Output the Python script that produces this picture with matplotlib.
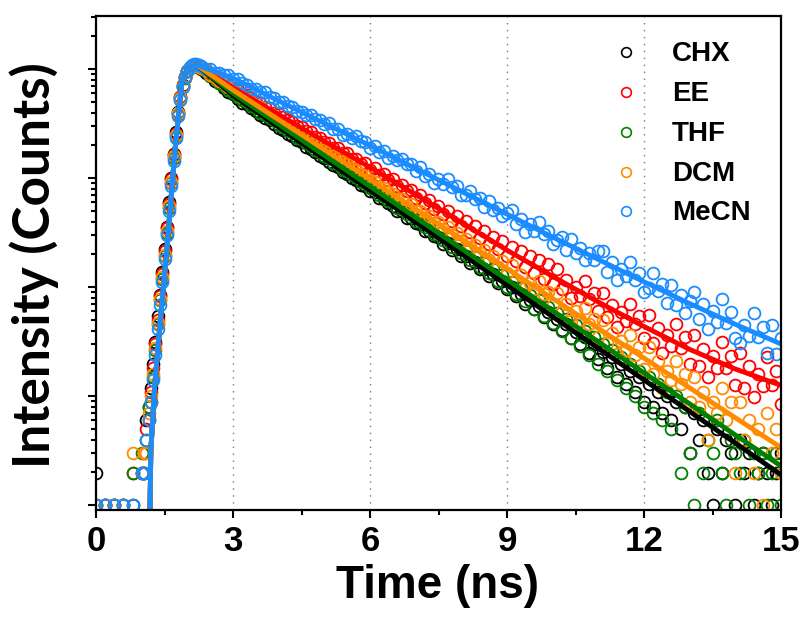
import numpy as np
import matplotlib.pyplot as plt
from matplotlib.ticker import LogLocator, NullFormatter, MultipleLocator

# time axis of the decay traces (ns)
t_base = [0.0, 0.2, 0.4, 0.6, 0.8, 1.0]
t_rise = np.linspace(1.05, 2.25, 25)
t_decay = np.linspace(2.3, 15.0, 128)
t_data = np.concatenate([t_base, t_rise, t_decay])

solvents = ['CHX', 'EE', 'THF', 'DCM', 'MeCN']
colors = ['#000000', '#ff0000', '#008000', '#ff8c00', '#1a8cff']

chx_log = [0.30, 0, 0, 0, 0, 0.30,
           0.30, 0.78, 0.90, 1.08, 1.30, 1.50, 1.74, 1.93, 2.14, 2.35, 2.55, 2.78, 3.00,
           3.22, 3.42, 3.61, 3.75, 3.86, 3.93, 3.98, 4.01, 4.03, 4.04, 4.03, 4.02,
           4.00, 3.97, 3.94, 3.89, 3.87, 3.83, 3.79, 3.77, 3.73, 3.69,
           3.68, 3.64, 3.62, 3.58, 3.55, 3.53, 3.50, 3.46, 3.44, 3.41,
           3.39, 3.35, 3.33, 3.29, 3.27, 3.24, 3.20, 3.19, 3.15, 3.12,
           3.10, 3.06, 3.04, 3.00, 2.98, 2.94, 2.93, 2.88, 2.87, 2.82,
           2.81, 2.77, 2.75, 2.70, 2.70, 2.64, 2.64, 2.59, 2.58, 2.52,
           2.52, 2.47, 2.46, 2.40, 2.41, 2.34, 2.35, 2.29, 2.29, 2.22,
           2.23, 2.17, 2.17, 2.10, 2.12, 2.04, 2.06, 1.98, 2.00, 1.92,
           1.94, 1.85, 1.88, 1.80, 1.83, 1.73, 1.77, 1.66, 1.71, 1.61,
           1.66, 1.53, 1.59, 1.48, 1.54, 1.40, 1.48, 1.34, 1.41, 1.26,
           1.36, 1.18, 1.30, 1.11, 1.23, 1.04, 1.18, 0.95, 1.11, 0.90,
           1.04, 0.85, 1.00, 0.78, 0.95, 0.70, 0.90, 0.48, 0.85, 0.60,
           0.78, 0.30, 0.00, 0.70, 0.30, 0.60, 0.48, 0.00, 0.60, 0.30,
           0.48, 0.00, 0.30, 0.48, 0.30, 0.00, 0.30, 0.48]
ee_log = [0, 0, 0, 0, 0.30, 0.30,
          0.48, 0.70, 0.78, 1.04, 1.26, 1.48, 1.70, 1.92, 2.12, 2.33, 2.54, 2.76, 2.99,
          3.21, 3.41, 3.60, 3.75, 3.85, 3.93, 3.98, 4.01, 4.03, 4.04, 4.04, 4.03,
          4.02, 3.99, 3.96, 3.94, 3.90, 3.89, 3.85, 3.83, 3.81, 3.77,
          3.76, 3.74, 3.70, 3.69, 3.65, 3.64, 3.60, 3.59, 3.56, 3.53,
          3.52, 3.48, 3.47, 3.43, 3.42, 3.38, 3.37, 3.33, 3.32, 3.28,
          3.28, 3.23, 3.23, 3.18, 3.18, 3.13, 3.14, 3.08, 3.09, 3.03,
          3.04, 2.98, 2.99, 2.93, 2.94, 2.88, 2.89, 2.82, 2.85, 2.77,
          2.80, 2.72, 2.75, 2.67, 2.70, 2.61, 2.65, 2.56, 2.61, 2.51,
          2.56, 2.45, 2.52, 2.40, 2.46, 2.35, 2.42, 2.29, 2.37, 2.24,
          2.33, 2.19, 2.29, 2.13, 2.25, 2.08, 2.21, 2.03, 2.17, 1.98,
          2.07, 1.90, 2.00, 1.92, 2.06, 1.89, 1.95, 1.78, 1.95, 1.73,
          1.84, 1.64, 1.77, 1.69, 1.85, 1.66, 1.74, 1.53, 1.75, 1.49,
          1.63, 1.40, 1.56, 1.46, 1.66, 1.44, 1.54, 1.30, 1.56, 1.28,
          1.43, 1.18, 1.37, 1.26, 1.50, 1.26, 1.37, 1.10, 1.40, 1.08,
          1.28, 0.99, 1.20, 1.09, 1.36, 1.10, 1.23, 0.93]
thf_log = [0, 0, 0, 0, 0.30, 0.48,
           0.30, 0.60, 0.90, 0.95, 1.18, 1.42, 1.66, 1.88, 2.08, 2.29, 2.50, 2.73, 2.96,
           3.19, 3.39, 3.59, 3.73, 3.84, 3.92, 3.98, 4.01, 4.03, 4.04, 4.03, 4.02,
           4.01, 3.98, 3.94, 3.92, 3.87, 3.85, 3.81, 3.78, 3.75, 3.72,
           3.70, 3.66, 3.64, 3.60, 3.58, 3.55, 3.53, 3.49, 3.47, 3.43,
           3.42, 3.37, 3.36, 3.32, 3.30, 3.26, 3.24, 3.20, 3.19, 3.14,
           3.13, 3.08, 3.07, 3.03, 3.01, 2.97, 2.96, 2.91, 2.90, 2.85,
           2.84, 2.79, 2.79, 2.73, 2.73, 2.67, 2.68, 2.61, 2.62, 2.55,
           2.56, 2.49, 2.50, 2.43, 2.45, 2.37, 2.39, 2.31, 2.33, 2.25,
           2.28, 2.19, 2.22, 2.13, 2.17, 2.06, 2.11, 2.00, 2.05, 1.94,
           1.99, 1.87, 1.93, 1.80, 1.88, 1.74, 1.82, 1.67, 1.76, 1.60,
           1.71, 1.53, 1.65, 1.46, 1.60, 1.38, 1.54, 1.30, 1.48, 1.23,
           1.42, 1.15, 1.36, 1.08, 1.30, 1.00, 1.23, 0.90, 1.18, 0.85,
           1.11, 0.78, 1.04, 0.70, 1.00, 0.30, 0.90, 0.48, 0.00, 0.85,
           0.30, 0.60, 0.48, 0.78, 0.30, 0.00, 0.60, 0.48, 0.30, 0.60,
           0.00, 0.48, 0.30, 0.48, 0.00, 0.30, 0.48, 0.00]
dcm_log = [0, 0, 0, 0, 0.48, 0.30,
           0.48, 0.48, 0.85, 1.00, 1.20, 1.44, 1.67, 1.89, 2.09, 2.30, 2.52, 2.75, 2.97,
           3.20, 3.40, 3.60, 3.74, 3.85, 3.93, 3.98, 4.01, 4.03, 4.04, 4.04, 4.03,
           4.01, 3.99, 3.95, 3.93, 3.89, 3.87, 3.84, 3.81, 3.79, 3.75,
           3.73, 3.70, 3.67, 3.65, 3.61, 3.59, 3.57, 3.53, 3.51, 3.48,
           3.46, 3.42, 3.41, 3.37, 3.35, 3.31, 3.30, 3.26, 3.24, 3.20,
           3.19, 3.15, 3.13, 3.09, 3.08, 3.04, 3.02, 2.98, 2.97, 2.92,
           2.91, 2.87, 2.86, 2.81, 2.81, 2.75, 2.76, 2.70, 2.70, 2.64,
           2.65, 2.59, 2.60, 2.53, 2.55, 2.48, 2.50, 2.42, 2.44, 2.37,
           2.39, 2.31, 2.34, 2.25, 2.29, 2.19, 2.24, 2.13, 2.20, 2.07,
           2.11, 1.99, 2.04, 1.98, 2.06, 1.94, 1.96, 1.84, 1.95, 1.78,
           1.85, 1.69, 1.78, 1.70, 1.81, 1.66, 1.71, 1.54, 1.70, 1.49,
           1.58, 1.39, 1.51, 1.42, 1.56, 1.38, 1.45, 1.25, 1.45, 1.20,
           1.32, 1.08, 1.23, 1.15, 1.32, 1.11, 1.20, 0.95, 1.18, 0.90,
           1.04, 0.60, 0.95, 0.85, 1.08, 0.78, 0.95, 0.30, 0.95, 0.60,
           0.78, 0.30, 0.70, 0.00, 0.85, 0.48, 0.70, 0.30]
mecn_log = [0, 0, 0, 0, 0, 0.30,
            0.30, 0.60, 0.78, 0.95, 1.15, 1.38, 1.62, 1.84, 2.05, 2.26, 2.48, 2.70, 2.93,
            3.16, 3.37, 3.57, 3.72, 3.84, 3.93, 3.98, 4.02, 4.04, 4.05, 4.05, 4.04,
            4.03, 4.00, 4.00, 3.97, 3.97, 3.95, 3.95, 3.91, 3.91, 3.87,
            3.86, 3.82, 3.82, 3.79, 3.79, 3.75, 3.74, 3.70, 3.70, 3.66,
            3.65, 3.62, 3.61, 3.58, 3.58, 3.54, 3.53, 3.50, 3.51, 3.45,
            3.45, 3.40, 3.41, 3.37, 3.39, 3.34, 3.33, 3.28, 3.30, 3.24,
            3.25, 3.19, 3.20, 3.17, 3.18, 3.13, 3.13, 3.07, 3.10, 3.02,
            3.04, 2.96, 2.99, 2.95, 2.99, 2.92, 2.93, 2.85, 2.85, 2.88,
            2.81, 2.82, 2.74, 2.79, 2.71, 2.73, 2.65, 2.68, 2.71, 2.58,
            2.63, 2.51, 2.58, 2.52, 2.60, 2.49, 2.52, 2.40, 2.43, 2.46,
            2.34, 2.44, 2.31, 2.36, 2.25, 2.31, 2.25, 2.33, 2.33, 2.14,
            2.23, 2.07, 2.17, 2.10, 2.23, 2.07, 2.13, 1.96, 1.99, 2.13,
            1.97, 2.03, 1.86, 2.02, 1.84, 1.93, 1.76, 1.87, 1.96, 1.71,
            1.85, 1.62, 1.78, 1.68, 1.89, 1.67, 1.77, 1.53, 1.49, 1.65,
            1.55, 1.76, 1.54, 1.64, 1.40, 1.65, 1.39, 1.53]

# fitted curves, log10(counts)
fit_t = [1.17, 1.20, 1.29, 1.42, 1.55, 1.65, 1.73, 1.88, 2.00, 2.20,
         3, 4, 5, 6, 7, 8, 9, 10, 11, 12, 13, 14, 15]
fit_rise = [-0.5, 0.5, 1.12, 1.75, 2.34, 2.85, 3.26, 3.88, 3.99, 4.04]
chx_fit = [3.76, 3.47, 3.18, 2.89, 2.60, 2.31, 2.02, 1.73, 1.44, 1.15, 0.86, 0.57, 0.28]
ee_fit = [3.83, 3.585, 3.34, 3.10, 2.85, 2.595, 2.34, 2.10, 1.865, 1.64, 1.43, 1.25, 1.10]
thf_fit = [3.78, 3.495, 3.21, 2.925, 2.64, 2.355, 2.07, 1.785, 1.50, 1.215, 0.93, 0.645, 0.36]
dcm_fit = [3.81, 3.537, 3.263, 2.99, 2.717, 2.443, 2.17, 1.897, 1.623, 1.35, 1.077, 0.803, 0.53]
mecn_fit = [3.92, 3.71, 3.505, 3.30, 3.09, 2.88, 2.67, 2.46, 2.255, 2.05, 1.85, 1.66, 1.48]

data_logs = [chx_log, ee_log, thf_log, dcm_log, mecn_log]
fit_logs = [chx_fit, ee_fit, thf_fit, dcm_fit, mecn_fit]

fig = plt.figure(figsize=(8.06, 6.17), dpi=100)
ax = fig.add_axes([96/806, 107/617, 685/806, 494/617])

for x in [3, 6, 9, 12]:
    ax.axvline(x, color='#777777', lw=1, ls=(0, (1, 4)), zorder=0)

for vals, c in zip(data_logs, colors):
    ax.plot(t_data, 10**np.array(vals), 'o', ls='none', ms=8.5,
            mfc='none', mec=c, mew=1.3)

for vals, c in zip(fit_logs, colors):
    ax.plot(fit_t, 10**np.array(fit_rise + vals), color=c, lw=3.5)

ax.set_yscale('log')
ax.set_xlim(0, 15)
ax.set_ylim(0.905, 30800)
ax.yaxis.set_major_locator(LogLocator(base=10, numticks=10))
ax.yaxis.set_minor_locator(LogLocator(base=10, subs=np.arange(2, 10), numticks=10))
ax.yaxis.set_major_formatter(NullFormatter())
ax.yaxis.set_minor_formatter(NullFormatter())
ax.xaxis.set_major_locator(MultipleLocator(3))
ax.xaxis.set_minor_locator(MultipleLocator(1.5))
ax.tick_params(which='major', direction='out', length=6, width=1.5, pad=5)
ax.tick_params(which='minor', direction='out', length=3.5, width=1.5)
for s in ax.spines.values():
    s.set_linewidth(1.6)

ax.set_xticks([0, 3, 6, 9, 12, 15])
ax.set_xticklabels(['0', '3', '6', '9', '12', '15'], fontsize=25,
                   fontweight='bold', family=['Liberation Sans', 'DejaVu Sans'])

fig.text(438/806, (617-598)/617, 'Time (ns)', ha='center', va='baseline',
         fontsize=33, fontweight='bold', family=['Liberation Sans', 'DejaVu Sans'])
fig.text(34/806, (617-265)/617, 'Intensity (Counts)', rotation=90,
         ha='center', va='center', fontsize=37, fontweight='bold',
         family=['Lato', 'DejaVu Sans'])

# legend, drawn by hand
row_y = [0.9265, 0.8468, 0.7658, 0.6848, 0.6058]
for name, c, y in zip(solvents, colors, row_y):
    ax.plot([0.774], [y], transform=ax.transAxes, marker='o', ms=7,
            mfc='none', mec=c, mew=1.2, clip_on=False)
    ax.text(0.841, y - 0.0182, name, transform=ax.transAxes, fontsize=20,
            fontweight='bold', va='baseline',
            family=['Liberation Sans', 'DejaVu Sans'])

fig.savefig('out.png', dpi=100)
